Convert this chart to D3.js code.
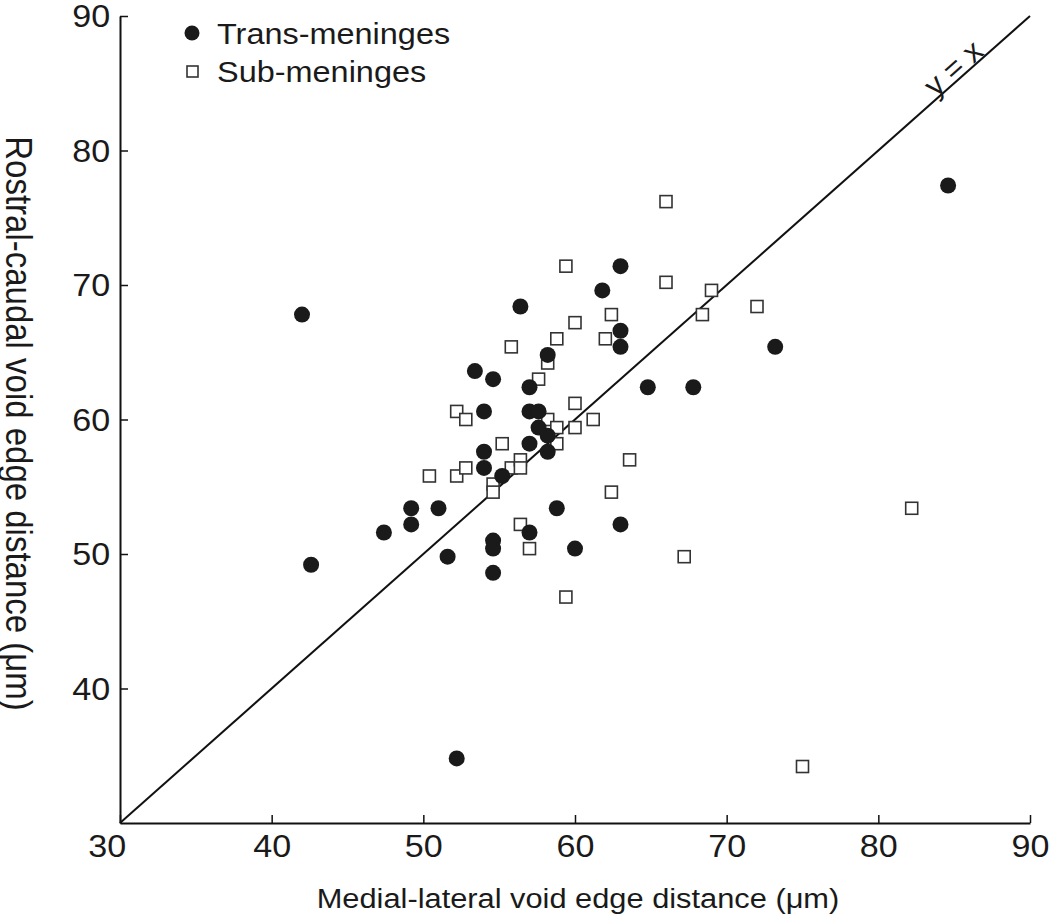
<!DOCTYPE html>
<html>
<head>
<meta charset="utf-8">
<script src="https://cdn.jsdelivr.net/npm/d3@7"></script>
<style>
  html, body { margin: 0; padding: 0; background: #fff; }
  svg { display: block; }
  text { font-family: "Liberation Sans", Arial, Helvetica, sans-serif; fill: #1a1a1a; }
</style>
</head>
<body>
<script>
// ---- data ----
const transX = [42.0, 42.6, 47.4, 49.2, 49.2, 51.0, 51.6, 52.2, 53.4, 54.6, 54.0, 54.0, 54.0, 55.2, 54.6, 54.6, 54.6, 56.4, 57.0, 57.0, 57.6, 57.6, 58.2, 57.0, 58.2, 58.2, 58.8, 57.0, 60.0, 63.0, 61.8, 63.0, 63.0, 63.0, 64.8, 67.8, 73.2, 84.6];
const transY = [67.8, 49.2, 51.6, 53.4, 52.2, 53.4, 49.8, 34.8, 63.6, 63.0, 60.6, 57.6, 56.4, 55.8, 51.0, 50.4, 48.6, 68.4, 62.4, 60.6, 60.6, 59.4, 58.8, 58.2, 57.6, 64.8, 53.4, 51.6, 50.4, 52.2, 69.6, 71.4, 66.6, 65.4, 62.4, 62.4, 65.4, 77.4];
const subX = [50.4, 52.2, 52.8, 52.2, 52.8, 54.6, 54.6, 55.2, 55.8, 55.8, 56.4, 56.4, 56.4, 57.0, 57.6, 58.2, 58.8, 58.2, 58.8, 58.8, 59.4, 59.4, 60.0, 60.0, 60.0, 61.2, 62.0, 62.4, 62.4, 63.6, 66.0, 66.0, 67.2, 68.4, 69.0, 72.0, 75.0, 82.2];
const subY = [55.8, 60.6, 60.0, 55.8, 56.4, 55.2, 54.6, 58.2, 56.4, 65.4, 57.0, 56.4, 52.2, 50.4, 63.0, 64.2, 66.0, 60.0, 59.4, 58.2, 71.4, 46.8, 67.2, 61.2, 59.4, 60.0, 66.0, 67.8, 54.6, 57.0, 76.2, 70.2, 49.8, 67.8, 69.6, 68.4, 34.2, 53.4];
const xTicks = [30, 40, 50, 60, 70, 80, 90];
const yTicks = [40, 50, 60, 70, 80, 90];
const seriesNames = ["Trans-meninges", "Sub-meninges"];
const xTitle = "Medial-lateral void edge distance (\u03bcm)";
const yTitle = "Rostral-caudal void edge distance (\u03bcm)";
const lineLabel = "y = x";

// ---- layout ----
const W = 1050, H = 917;
const SX = 1.1; // horizontal stretch of the original figure's text
const svg = d3.select("body").append("svg").attr("width", W).attr("height", H);

const x = d3.scaleLinear().domain([30, 90]).range([120, 1030]);
const y = d3.scaleLinear().domain([30, 90]).range([823, 16]);

// diagonal y = x
svg.append("line")
  .attr("x1", x(30)).attr("y1", y(30))
  .attr("x2", x(90)).attr("y2", y(90))
  .attr("stroke", "#111").attr("stroke-width", 2);

// label along the line
const ang = Math.atan2(y(90) - y(30), x(90) - x(30)) * 180 / Math.PI;
const lx = x(85.4), ly = y(85.4);
svg.append("text")
  .attr("transform", `translate(${lx},${ly - 2}) rotate(${ang})`)
  .attr("text-anchor", "middle")
  .style("font-size", "31px")
  .text(lineLabel);

// axes
const fontTick = "31px";
const gx = svg.append("g").attr("transform", `translate(0,${y(30)})`)
  .call(d3.axisBottom(x).tickValues(xTicks).tickSizeInner(-8).tickSizeOuter(0).tickPadding(12).tickFormat(d3.format("d")));
const gy = svg.append("g").attr("transform", `translate(${x(30)},0)`)
  .call(d3.axisLeft(y).tickValues(yTicks).tickSizeInner(-8).tickSizeOuter(0).tickPadding(9).tickFormat(d3.format("d")));
[gx, gy].forEach(g => {
  g.select(".domain").attr("stroke", "#111").attr("stroke-width", 2);
  g.selectAll(".tick line").attr("stroke", "#111").attr("stroke-width", 1.5);
  g.selectAll(".tick text").style("font-size", fontTick).style("font-family", '"Liberation Sans", Arial, sans-serif')
    .attr("fill", "#1a1a1a").attr("transform", `scale(${SX},1)`);
});
gy.selectAll(".tick text").attr("dy", "0.34em");
// the first x label sits slightly left of its tick, as in the original
gx.selectAll(".tick text").filter(d => d === xTicks[0]).attr("x", -12);

// axis titles
svg.append("text")
  .attr("transform", `translate(${(x(30) + x(90)) / 2 + 3},908) scale(${SX},1)`)
  .attr("text-anchor", "middle")
  .style("font-size", "28px")
  .text(xTitle);
svg.append("text")
  .attr("transform", `translate(6,${(y(30) + y(90)) / 2 + 4}) scale(${SX},1) rotate(90)`)
  .attr("text-anchor", "middle")
  .style("font-size", "33px")
  .text(yTitle);

// points
const trans = transX.map((v, i) => ({ x: v, y: transY[i] }));
const sub = subX.map((v, i) => ({ x: v, y: subY[i] }));
const sq = 12;

svg.append("g").selectAll("rect").data(sub).join("rect")
  .attr("x", d => x(d.x) - sq / 2).attr("y", d => y(d.y) - sq / 2)
  .attr("width", sq).attr("height", sq)
  .attr("fill", "#fff").attr("stroke", "#333").attr("stroke-width", 1.6);

svg.append("g").selectAll("circle").data(trans).join("circle")
  .attr("cx", d => x(d.x)).attr("cy", d => y(d.y))
  .attr("r", 8).attr("fill", "#1a1a1a");

// legend
const lg = svg.append("g");
lg.append("circle").attr("cx", 192).attr("cy", 33).attr("r", 7.5).attr("fill", "#1a1a1a");
lg.append("rect").attr("x", 187).attr("y", 66).attr("width", 11).attr("height", 11)
  .attr("fill", "#fff").attr("stroke", "#333").attr("stroke-width", 1.6);
lg.append("text").attr("transform", `translate(217,44) scale(${SX},1)`).style("font-size", "29.5px").text(seriesNames[0]);
lg.append("text").attr("transform", `translate(217,82) scale(${SX},1)`).style("font-size", "29.5px").text(seriesNames[1]);
</script>
</body>
</html>
